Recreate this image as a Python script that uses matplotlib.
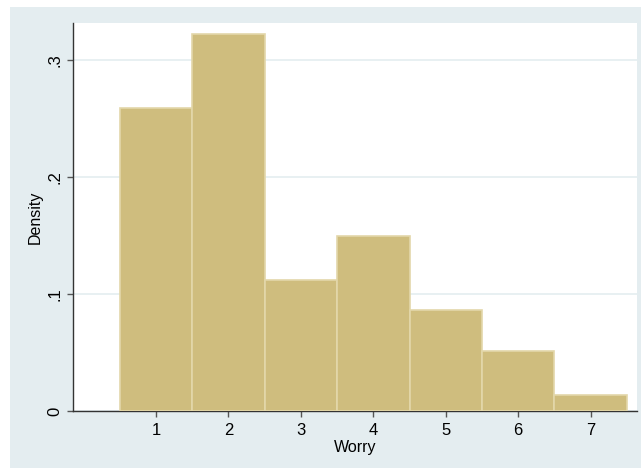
import matplotlib
matplotlib.use("Agg")
import matplotlib.pyplot as plt
from matplotlib.patches import Rectangle

# histogram of Worry (density per category)
worry = [1, 2, 3, 4, 5, 6, 7]
density = [0.259, 0.323, 0.112, 0.150, 0.0865, 0.051, 0.0137]
y_ticks = [0, 0.1, 0.2, 0.3]
y_tick_labels = ["0", ".1", ".2", ".3"]

plt.rcParams['font.family'] = ['Liberation Sans', 'DejaVu Sans']

fig = plt.figure(figsize=(6.41, 4.68), dpi=100)
fig.patch.set_facecolor('white')
# light blue outer region of the graph
fig.add_artist(Rectangle((10 / 641, 0), 1 - 10 / 641, (468 - 7) / 468,
                         transform=fig.transFigure, facecolor='#E4EDF0',
                         edgecolor='none', zorder=-10))

ax = fig.add_axes([73 / 641, 57 / 468, 564 / 641, 388 / 468])
ax.set_facecolor('white')

ax.bar(worry, density, width=1.0, color='#CFBD7E', edgecolor='#E3D7AA',
       linewidth=1.2, zorder=3)

ax.set_xlim(-0.146, 7.64)
ax.set_ylim(0, 0.332)
ax.set_xticks(worry)
ax.set_xticklabels([str(w) for w in worry])
ax.set_yticks(y_ticks)
ax.set_yticklabels(y_tick_labels, rotation=90, va='center')

ax.grid(axis='y', color='#E4EDF0', linewidth=1.2, zorder=0)
ax.set_axisbelow(True)

for s in ['top', 'right']:
    ax.spines[s].set_visible(False)
for s in ['left', 'bottom']:
    ax.spines[s].set_color('#333333')
    ax.spines[s].set_linewidth(1.0)

ax.tick_params(axis='both', length=4.3, width=1, color='#555555',
               labelsize=12)
ax.tick_params(axis='x', pad=4)
ax.tick_params(axis='y', pad=3.5)

ax.set_xlabel('Worry', fontsize=11.5, labelpad=1.5)
ax.set_ylabel('Density', fontsize=11.5, labelpad=3.5)

fig.savefig('out.png', dpi=100)
